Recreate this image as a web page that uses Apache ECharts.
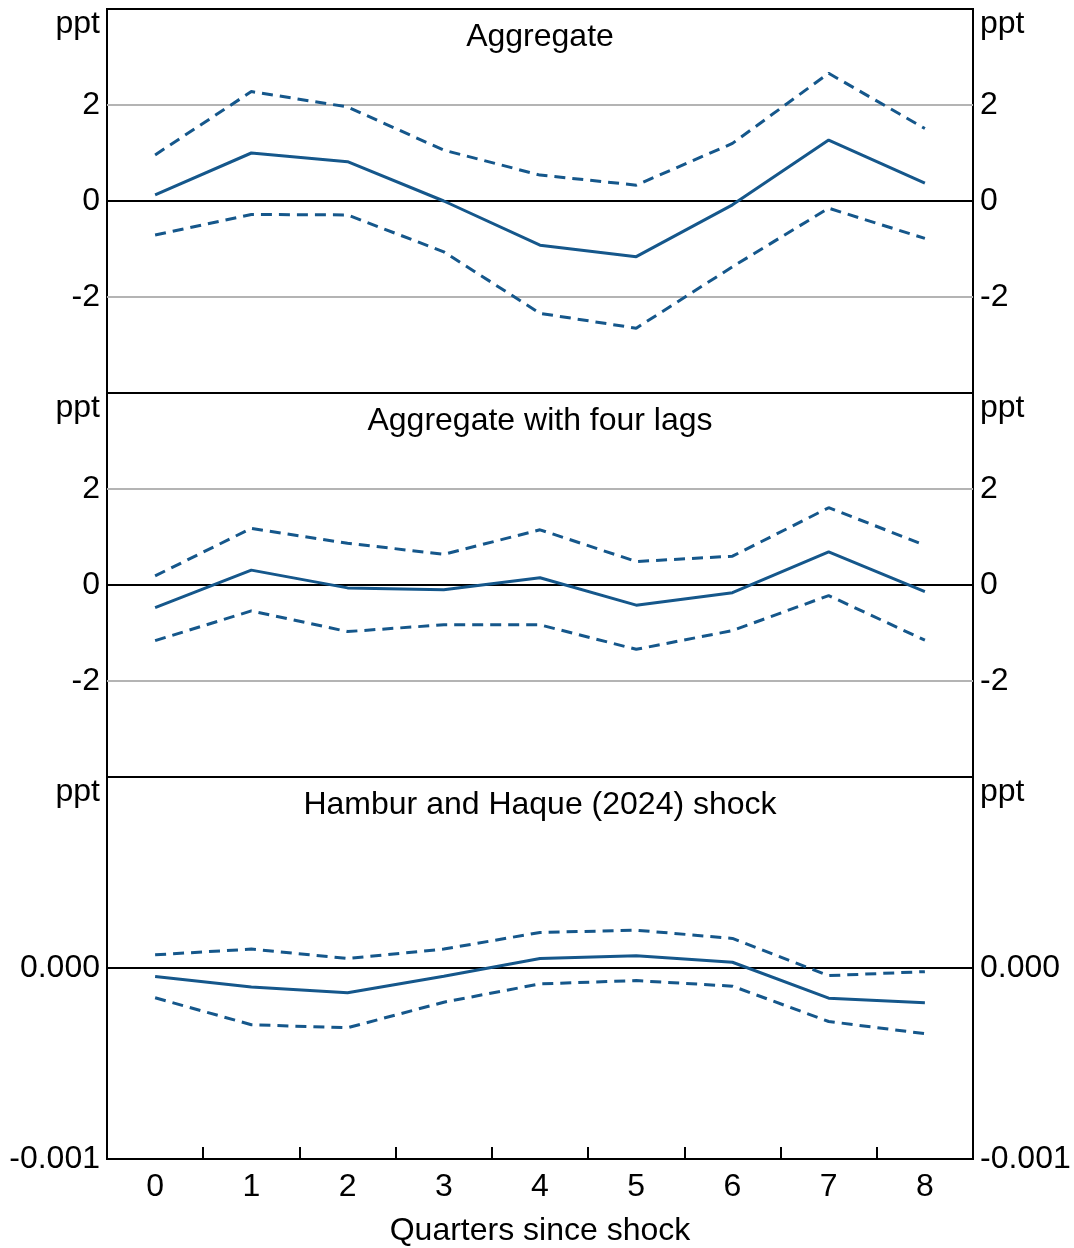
<!DOCTYPE html>
<html style="height: 100%; margin: 0; padding: 0;">
<head>
    <meta charset="utf-8">
    <title>Impulse responses</title>
    <script src="https://cdn.jsdelivr.net/npm/echarts@6/dist/echarts.min.js"></script>
    <style>
        body, html {
            height: 100%;
            margin: 0;
            padding: 0;
            background-color: #ffffff;
        }
        #main {
            width: 1074px;
            height: 1248px;
        }
    </style>
</head>
<body>
<div id="main"></div>
<script type="text/javascript">
    // quarters since shock
    var quarters = ['0', '1', '2', '3', '4', '5', '6', '7', '8'];

    // panel titles
    var panelTitles = ['Aggregate', 'Aggregate with four lags', 'Hambur and Haque (2024) shock'];

    // Aggregate (ppt)
    var aggMid = [0.13, 1.0, 0.82, 0.0, -0.92, -1.16, -0.08, 1.27, 0.37];
    var aggUpper = [0.96, 2.28, 1.96, 1.06, 0.54, 0.33, 1.2, 2.66, 1.51];
    var aggLower = [-0.71, -0.28, -0.29, -1.06, -2.34, -2.65, -1.37, -0.15, -0.78];

    // Aggregate with four lags (ppt)
    var lagMid = [-0.47, 0.31, -0.06, -0.1, 0.15, -0.42, -0.16, 0.69, -0.14];
    var lagUpper = [0.19, 1.18, 0.87, 0.64, 1.15, 0.49, 0.6, 1.61, 0.83];
    var lagLower = [-1.16, -0.54, -0.97, -0.83, -0.83, -1.34, -0.95, -0.22, -1.15];

    // Hambur and Haque (2024) shock (ppt)
    var hhMid = [-0.000045, -0.0001, -0.00013, -0.000043, 0.00005, 0.000064, 0.00003, -0.000158, -0.000182];
    var hhUpper = [0.000069, 0.000099, 0.00005, 0.000099, 0.000186, 0.000198, 0.000155, -0.00004, -0.000019];
    var hhLower = [-0.000156, -0.000297, -0.000313, -0.000179, -0.000083, -0.000066, -0.000095, -0.00028, -0.000344];

    var FONT = 'Liberation Sans, Arial, sans-serif';
    var FS = 32;
    var BLUE = '#15578b';
    var GRAY = '#b4b4b4';

    var myChart = echarts.init(document.getElementById('main'));

    var gridTops = [9, 393, 777];
    var panelHeight = 384;

    // y axis ranges per panel
    var yRanges = [
        { min: -4, max: 4, interval: 2, fmt: function (v) { return String(v); } },
        { min: -4, max: 4, interval: 2, fmt: function (v) { return String(v); } },
        { min: -0.001, max: 0.001, interval: 0.001, fmt: function (v) { return Math.abs(v) < 1e-9 ? '0.000' : v.toFixed(3); } }
    ];
    var splitColors = [
        ['#000', GRAY, '#000', GRAY, '#000'],
        ['#000', GRAY, '#000', GRAY, '#000'],
        ['#000', '#000', '#000']
    ];

    var grids = [], xAxes = [], yAxes = [], titles = [], series = [];
    var panelData = [
        [aggMid, aggUpper, aggLower],
        [lagMid, lagUpper, lagLower],
        [hhMid, hhUpper, hhLower]
    ];

    gridTops.forEach(function (top, i) {
        grids.push({
            left: 107, width: 866, top: top, height: panelHeight,
            show: true, borderColor: '#000', borderWidth: 2,
            backgroundColor: 'transparent'
        });
        titles.push({
            text: panelTitles[i],
            left: 540, top: top + 12, textAlign: 'center', padding: 0,
            textStyle: { fontFamily: FONT, fontSize: FS, fontWeight: 'normal', color: '#000' }
        });
        var last = i === 2;
        xAxes.push({
            type: 'category', gridIndex: i, data: quarters, boundaryGap: true,
            show: last, position: 'bottom',
            axisLine: { show: false, onZero: false },
            axisTick: { show: true, inside: true, length: 12, interval: 0, lineStyle: { color: '#000', width: 2 } },
            axisLabel: { show: last, margin: 12, interval: 0, fontFamily: FONT, fontSize: FS, color: '#000' },
            name: last ? 'Quarters since shock' : '',
            nameLocation: 'middle', nameGap: 56,
            nameTextStyle: { fontFamily: FONT, fontSize: FS, color: '#000' },
            splitLine: { show: false }
        });
        var r = yRanges[i];
        ['left', 'right'].forEach(function (side) {
            yAxes.push({
                type: 'value', gridIndex: i, position: side,
                min: r.min, max: r.max, interval: r.interval,
                name: 'ppt', nameLocation: 'end', nameGap: -15,
                nameTextStyle: {
                    fontFamily: FONT, fontSize: FS, color: '#000',
                    align: side === 'left' ? 'right' : 'left', verticalAlign: 'middle',
                    padding: side === 'left' ? [0, 7, 0, 0] : [0, 0, 0, 7]
                },
                axisLine: { show: false },
                axisTick: { show: false },
                axisLabel: {
                    margin: 7, fontFamily: FONT, fontSize: FS, color: '#000',
                    padding: [4, 0, 0, 0],
                    showMinLabel: i === 2, showMaxLabel: false,
                    formatter: r.fmt
                },
                splitLine: side === 'left'
                    ? { show: true, lineStyle: { color: splitColors[i], width: 2 } }
                    : { show: false }
            });
        });
        var d = panelData[i];
        series.push({
            type: 'line', xAxisIndex: i, yAxisIndex: i * 2, data: d[0],
            symbol: 'none', lineStyle: { color: BLUE, width: 3 }, z: 3
        });
        series.push({
            type: 'line', xAxisIndex: i, yAxisIndex: i * 2, data: d[1],
            symbol: 'none', lineStyle: { color: BLUE, width: 3, type: [11, 7] }, z: 3
        });
        series.push({
            type: 'line', xAxisIndex: i, yAxisIndex: i * 2, data: d[2],
            symbol: 'none', lineStyle: { color: BLUE, width: 3, type: [11, 7] }, z: 3
        });
    });

    var option = {
        animation: false,
        backgroundColor: '#ffffff',
        title: titles,
        grid: grids,
        xAxis: xAxes,
        yAxis: yAxes,
        series: series
    };

    myChart.setOption(option);
</script>
</body>
</html>
